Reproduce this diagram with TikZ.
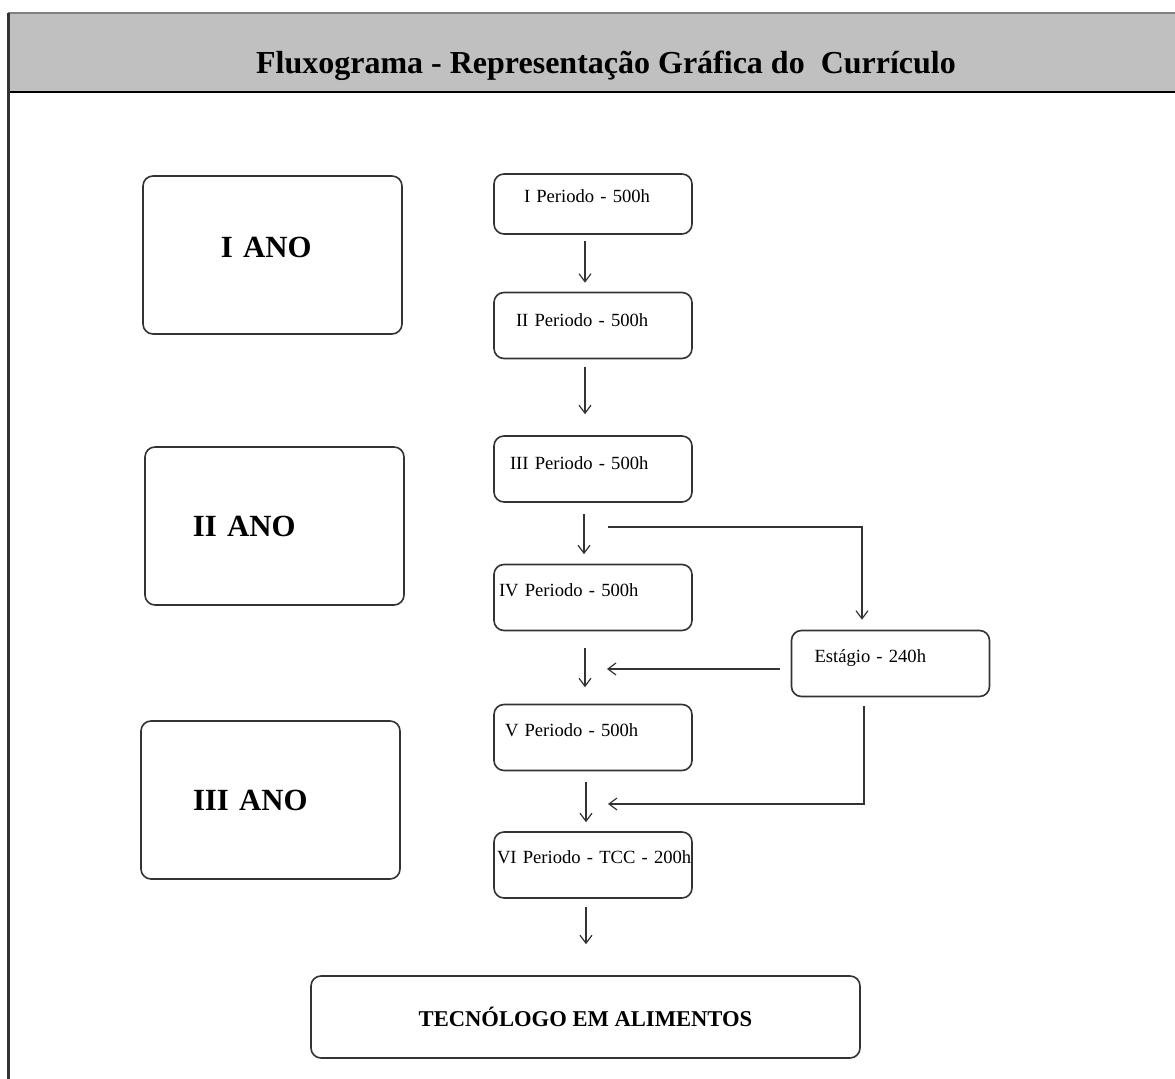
\documentclass[tikz,border=0pt]{standalone}
\usepackage{fontspec}
\setmainfont{Liberation Serif}
\usetikzlibrary{arrows.meta}
\definecolor{hdrgray}{HTML}{C0C0C0}
\definecolor{inkgray}{HTML}{333333}
\tikzset{
	anobox/.style={draw=inkgray, line width=0.8pt, rounded corners=5pt, minimum width=129.5pt, minimum height=79pt, inner xsep=4pt, text width=121.5pt, align=left, font=\fontsize{15.4}{18}\selectfont\bfseries},
	pbox/.style={draw=inkgray, line width=0.8pt, rounded corners=5pt, minimum width=99pt, inner xsep=1.5pt, inner ysep=0pt, text width=96pt, align=left, text height=16pt, text depth=17pt, font=\fontsize{9.3}{11}\selectfont},
	arr/.style={draw=inkgray, line width=0.6pt, -{Straight Barb[length=4pt,width=6pt]}}
}
\begin{document}
\begin{tikzpicture}[x=0.5pt, y=-0.5pt]
	\useasboundingbox (0,0) rectangle (1175,1079);
	% header band and frame
	\fill[hdrgray] (8,13) rectangle (1175,92);
	\draw[gray, line width=1pt] (8,13) -- (1175,13);
	\draw[black, line width=1pt] (8,92) -- (1175,92);
	\draw[inkgray, line width=1.5pt] (8,13) -- (8,1079);
	\node[font=\fontsize{16}{19}\selectfont\bfseries] (title) at (606,66) {Fluxograma - Representação Gráfica do\ \ Currículo};
	% years
	\node[anobox, text height=9pt, text depth=6pt] (a1) at (272.5,255) {\hspace*{35pt}I ANO};
	\node[anobox] (a2) at (274.5,526) {\hspace*{20pt}II ANO};
	\node[anobox] (a3) at (270.5,800) {\hspace*{22pt}III ANO};
	% periods
	\node[pbox, text height=14.5pt, text depth=15.5pt] (p1) at (593,204) {\hspace*{13.5pt}I Periodo - 500h};
	\node[pbox, text height=17pt, text depth=16pt] (p2) at (593,325.5) {\hspace*{9.5pt}II Periodo - 500h};
	\node[pbox, text height=17pt, text depth=16pt] (p3) at (593,469) {\hspace*{6.5pt}III Periodo - 500h};
	\node[pbox] (p4) at (593,597.5) {\hspace*{1pt}IV Periodo - 500h};
	\node[pbox] (p5) at (593,737.5) {\hspace*{4pt}V Periodo - 500h};
	\node[pbox] (p6) at (593,865) {\mbox{VI Periodo - TCC - 200h}};
	\node[pbox] (est) at (890.5,663.5) {\hspace*{10pt}Estágio - 240h};
	\node[draw=inkgray, line width=0.8pt, rounded corners=5pt, minimum width=274.5pt, minimum height=41pt, font=\fontsize{11.3}{13}\selectfont\bfseries] (t) at (585.5,1017) {TECNÓLOGO EM ALIMENTOS};
	% free ends
	\coordinate (b1) at (608,527);
	\coordinate (b2) at (607,669);
	\coordinate (b3) at (608,804);
	% arrows
	\draw[arr, shorten <=3pt, shorten >=4.5pt] ([xshift=-4pt]p1.south) -- ([xshift=-4pt]p2.north);
	\draw[arr, shorten <=3.75pt, shorten >=10.5pt] ([xshift=-4pt]p2.south) -- ([xshift=-4pt]p3.north);
	\draw[arr, shorten <=5.5pt, shorten >=4.75pt] ([xshift=-4.5pt]p3.south) -- ([xshift=-4.5pt]p4.north);
	\draw[arr, shorten <=8.25pt, shorten >=8.25pt] ([xshift=-4pt]p4.south) -- ([xshift=-4pt]p5.north);
	\draw[arr, shorten <=5.25pt, shorten >=4.5pt] ([xshift=-3.5pt]p5.south) -- ([xshift=-3.5pt]p6.north);
	\draw[arr, shorten <=4pt, shorten >=15.5pt] ([xshift=-3.5pt]p6.south) -- ([xshift=-3.5pt]p6.south |- t.north);
	\draw[arr, shorten >=5pt] (b1) -| ([xshift=-14.25pt]est.north);
	\draw[arr, shorten <=5.5pt] ([yshift=-2.75pt]est.west) -- (b2);
	\draw[arr, shorten <=4.5pt] ([xshift=-13.25pt]est.south) |- (b3);
\end{tikzpicture}
\end{document}
